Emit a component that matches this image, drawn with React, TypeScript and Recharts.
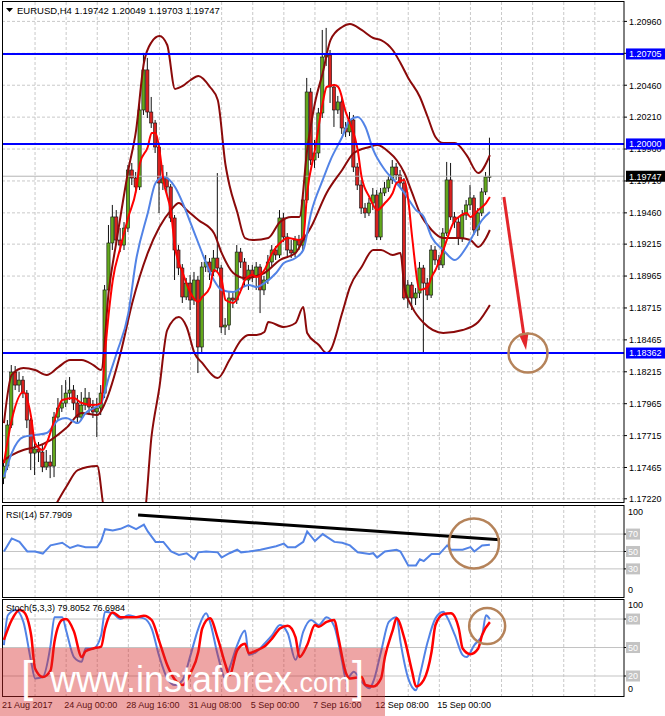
import React from "react";
import {
  Bar,
  CartesianGrid,
  ComposedChart,
  Line,
  ReferenceDot,
  ReferenceLine,
  XAxis,
  YAxis,
} from "recharts";

const FONT = "'Liberation Sans', Arial, sans-serif";

// EURUSD H4 candles
const OPEN = [
  1.17382, 1.17476, 1.17798, 1.18213, 1.18111, 1.1815, 1.18048, 1.17837, 1.17578, 1.1761,
  1.17586, 1.17469, 1.17508, 1.17476, 1.1786, 1.17931, 1.1797, 1.18048, 1.18072, 1.1797,
  1.1786, 1.17954, 1.18009, 1.17939, 1.179, 1.17931, 1.18048, 1.18856, 1.19224, 1.19428,
  1.19247, 1.19208, 1.19341, 1.19796, 1.19733, 1.19663, 1.20266, 1.2058, 1.2025, 1.20164,
  1.19976, 1.19694, 1.19733, 1.19663, 1.1942, 1.19169, 1.19028, 1.18801, 1.1891, 1.18777,
  1.18934, 1.18409, 1.19036, 1.19075, 1.18997, 1.19106, 1.19028, 1.18566, 1.18581, 1.18793,
  1.18777, 1.19153, 1.19075, 1.18934, 1.19012, 1.18965, 1.19036, 1.18856, 1.18934, 1.19075,
  1.19169, 1.1913, 1.1942, 1.19271, 1.19169, 1.19146, 1.19247, 1.19208, 1.19561, 1.20407,
  1.19874, 1.19929, 1.20243, 1.20681, 1.20697, 1.20446, 1.20266, 1.20329, 1.20125, 1.20094,
  1.20188, 1.19819, 1.19678, 1.19498, 1.19459, 1.19537, 1.196, 1.19271, 1.19616, 1.19655,
  1.19718, 1.19819, 1.19757, 1.19694, 1.18793, 1.18895, 1.18793, 1.18832, 1.19028, 1.1891,
  1.18816, 1.19169, 1.19091, 1.19052, 1.19302, 1.19718, 1.19428, 1.19388, 1.19263, 1.19443,
  1.19522, 1.19577, 1.19326, 1.19459, 1.19624, 1.19742,
];
const HIGH = [
  1.17523, 1.17837, 1.18268, 1.1826, 1.18213, 1.18182, 1.18072, 1.17853, 1.1768, 1.17665,
  1.17641, 1.17602, 1.17563, 1.179, 1.18009, 1.18111, 1.1815, 1.18174, 1.18111, 1.18033,
  1.18056, 1.18088, 1.18056, 1.17994, 1.18009, 1.18111, 1.18895, 1.19365, 1.19522, 1.19482,
  1.19341, 1.19388, 1.19835, 1.19851, 1.1978, 1.20344, 1.20713, 1.20674, 1.20368, 1.20188,
  1.19992, 1.19835, 1.1978, 1.19686, 1.19443, 1.19208, 1.19059, 1.1895, 1.18973, 1.18997,
  1.18965, 1.19075, 1.1913, 1.19106, 1.19169, 1.19772, 1.19052, 1.18636, 1.1884, 1.18832,
  1.19208, 1.19185, 1.19106, 1.19052, 1.19052, 1.19075, 1.19059, 1.18965, 1.1913, 1.19208,
  1.192, 1.19482, 1.19459, 1.19302, 1.19247, 1.19279, 1.19287, 1.196, 1.20517, 1.20438,
  1.20031, 1.20282, 1.20893, 1.20909, 1.20736, 1.2047, 1.20376, 1.2036, 1.20172, 1.2025,
  1.20227, 1.19851, 1.19718, 1.19537, 1.19577, 1.19655, 1.19639, 1.19655, 1.19702, 1.19749,
  1.19874, 1.19851, 1.19796, 1.19733, 1.18934, 1.18918, 1.18871, 1.19075, 1.19052, 1.1895,
  1.19208, 1.192, 1.1913, 1.19341, 1.19859, 1.19851, 1.19467, 1.1942, 1.19482, 1.19561,
  1.19678, 1.196, 1.19498, 1.19655, 1.1978, 1.20049,
];
const LOW = [
  1.17335, 1.17445, 1.17774, 1.18072, 1.18056, 1.18009, 1.17774, 1.17445, 1.17406, 1.17508,
  1.17429, 1.17445, 1.17382, 1.1739, 1.17837, 1.179, 1.17939, 1.17994, 1.17915, 1.17821,
  1.17837, 1.17915, 1.17876, 1.17853, 1.17704, 1.17876, 1.18009, 1.18816, 1.19169, 1.19208,
  1.19153, 1.19169, 1.1931, 1.19678, 1.19616, 1.19639, 1.20227, 1.20203, 1.20125, 1.19929,
  1.19459, 1.19639, 1.196, 1.19388, 1.18934, 1.18973, 1.18754, 1.18777, 1.18699, 1.18738,
  1.18205, 1.1837, 1.18997, 1.18934, 1.18965, 1.18997, 1.18519, 1.18503, 1.18542, 1.18715,
  1.18746, 1.19028, 1.18879, 1.18856, 1.18918, 1.18856, 1.18675, 1.18816, 1.18903, 1.19044,
  1.19091, 1.19106, 1.19232, 1.19122, 1.19106, 1.19114, 1.19169, 1.19169, 1.19537, 1.19835,
  1.19812, 1.1989, 1.20203, 1.20611, 1.20321, 1.20133, 1.20235, 1.20078, 1.20054, 1.20062,
  1.1978, 1.19639, 1.19451, 1.1942, 1.19435, 1.19482, 1.19247, 1.19247, 1.19592, 1.19624,
  1.19686, 1.19718, 1.19655, 1.18777, 1.18715, 1.18699, 1.18738, 1.18793, 1.18362, 1.18777,
  1.18793, 1.19052, 1.19012, 1.19028, 1.19279, 1.19404, 1.19341, 1.19208, 1.19232, 1.19404,
  1.19482, 1.19287, 1.19279, 1.19435, 1.196, 1.19703,
];
const CLOSE = [
  1.17476, 1.17798, 1.18213, 1.18111, 1.1815, 1.18048, 1.17837, 1.17578, 1.1761, 1.17586,
  1.17469, 1.17508, 1.17476, 1.1786, 1.17931, 1.1797, 1.18048, 1.18072, 1.1797, 1.1786,
  1.17954, 1.18009, 1.17939, 1.179, 1.17931, 1.18048, 1.18856, 1.19224, 1.19428, 1.19247,
  1.19208, 1.19341, 1.19796, 1.19733, 1.19663, 1.20266, 1.2058, 1.2025, 1.20164, 1.19976,
  1.19694, 1.19733, 1.19663, 1.1942, 1.19169, 1.19028, 1.18801, 1.1891, 1.18777, 1.18934,
  1.18409, 1.19036, 1.19075, 1.18997, 1.19106, 1.19028, 1.18566, 1.18581, 1.18793, 1.18777,
  1.19153, 1.19075, 1.18934, 1.19012, 1.18965, 1.19036, 1.18856, 1.18934, 1.19075, 1.19169,
  1.1913, 1.1942, 1.19271, 1.19169, 1.19146, 1.19247, 1.19208, 1.19561, 1.20407, 1.19874,
  1.19929, 1.20243, 1.20681, 1.20697, 1.20446, 1.20266, 1.20329, 1.20125, 1.20094, 1.20188,
  1.19819, 1.19678, 1.19498, 1.19459, 1.19537, 1.196, 1.19271, 1.19616, 1.19655, 1.19718,
  1.19819, 1.19757, 1.19694, 1.18793, 1.18895, 1.18793, 1.18832, 1.19028, 1.1891, 1.18816,
  1.19169, 1.19091, 1.19052, 1.19302, 1.19718, 1.19428, 1.19388, 1.19263, 1.19443, 1.19522,
  1.19577, 1.19326, 1.19459, 1.19624, 1.19741, 1.19747,
];

// indicators, [bar, value] read where the curve could be seen
const BB_UPPER = [
  [0, 1.17813], [2, 1.1819], [5, 1.18244], [8, 1.18229], [11, 1.1819], [14, 1.18252], [17, 1.18307],
  [20, 1.18307], [23, 1.18268], [25, 1.18229], [27, 1.18856], [29, 1.19247], [32, 1.19796], [34, 1.20109],
  [36, 1.20634], [38, 1.20799], [40, 1.20846], [42, 1.20775], [44, 1.20431], [46, 1.20454], [48, 1.20501],
  [50, 1.20532], [53, 1.20446], [55, 1.20344], [57, 1.19835], [58, 1.19678], [60, 1.19467], [62, 1.19263],
  [64, 1.19247], [68, 1.19263], [71, 1.19388], [74, 1.19428], [76, 1.19428], [78, 1.19953], [80, 1.20321],
  [82, 1.20556], [84, 1.20814], [87, 1.20916], [89, 1.2094], [92, 1.20893], [95, 1.2083], [97, 1.20814],
  [100, 1.20736], [102, 1.20634], [104, 1.20517], [107, 1.20368], [109, 1.20211], [111, 1.20054],
  [113, 1.20007], [116, 1.20007], [119, 1.19913], [122, 1.19772], [125, 1.19913],
];
const BB_MIDDLE = [
  [0, 1.17523], [2, 1.17563], [5, 1.17602], [8, 1.17625], [12, 1.1768], [16, 1.17774], [20, 1.17892],
  [24, 1.17876], [26, 1.1797], [30, 1.18362], [33, 1.18754], [37, 1.19146], [40, 1.19349], [43, 1.19482],
  [45, 1.19537], [47, 1.19482], [50, 1.19404], [54, 1.19302], [56, 1.19146], [59, 1.18989], [62, 1.1895],
  [67, 1.18989], [71, 1.19091], [75, 1.19146], [77, 1.19247], [79, 1.19349], [83, 1.19616], [87, 1.19796],
  [90, 1.19929], [94, 1.19976], [96, 1.19992], [99, 1.19937], [101, 1.19874], [103, 1.19772],
  [105, 1.19616], [107, 1.19459], [110, 1.19326], [113, 1.19263], [117, 1.19263], [120, 1.19247],
  [122, 1.19193], [124, 1.19263], [125, 1.19326],
];
const BB_LOWER = [
  [12, 1.171], [16, 1.17312], [19, 1.17445], [24, 1.17476], [26, 1.1712], [36, 1.171], [38, 1.17719],
  [40, 1.18095], [42, 1.18542], [45, 1.18644], [47, 1.18566], [49, 1.18362], [51, 1.18284], [55, 1.18166],
  [58, 1.18307], [61, 1.18463], [63, 1.18503], [65, 1.18503], [67, 1.18527], [68, 1.18605], [72, 1.18566],
  [75, 1.18597], [77, 1.18722], [78, 1.18519], [81, 1.18425], [83, 1.18362], [84, 1.18385], [87, 1.18675],
  [89, 1.18879], [92, 1.19036], [95, 1.19169], [97, 1.19169], [100, 1.1913], [102, 1.19146], [103, 1.18879],
  [105, 1.18722], [108, 1.18597], [113, 1.18519], [118, 1.18542], [122, 1.18605], [125, 1.18738],
];
const MA_FAST = [
  [0, 1.175], [2, 1.17837], [5, 1.18056], [7, 1.1786], [8, 1.17657], [10, 1.17602], [11, 1.17657],
  [13, 1.17837], [15, 1.17994], [18, 1.18009], [20, 1.1797], [23, 1.17954], [25, 1.1797], [26, 1.18362],
  [28, 1.18934], [30, 1.19193], [32, 1.19428], [34, 1.19639], [35, 1.19851], [37, 1.19976], [38, 1.20086],
  [39, 1.20086], [40, 1.19953], [41, 1.19718], [43, 1.19459], [44, 1.19193], [46, 1.18989], [48, 1.18832],
  [50, 1.18762], [51, 1.18801], [53, 1.18879], [54, 1.19012], [56, 1.18934], [57, 1.18777], [59, 1.18754],
  [61, 1.18856], [62, 1.18934], [64, 1.18973], [65, 1.18957], [67, 1.19012], [69, 1.19146], [71, 1.19224],
  [73, 1.19263], [76, 1.19247], [77, 1.19271], [78, 1.19616], [80, 1.19953], [82, 1.20321], [83, 1.20446],
  [85, 1.20462], [86, 1.20446], [88, 1.20243], [89, 1.20164], [91, 1.19953], [92, 1.19741], [94, 1.19584],
  [96, 1.19482], [98, 1.19537], [100, 1.19616], [101, 1.19694], [103, 1.19718], [104, 1.19561],
  [105, 1.19271], [107, 1.18856], [109, 1.18879], [110, 1.18957], [111, 1.19012], [113, 1.19169],
  [116, 1.19404], [117, 1.19428], [119, 1.19459], [120, 1.19428], [122, 1.19482], [124, 1.19537],
  [125, 1.19584],
];
const MA_SLOW = [
  [0, 1.1739], [2, 1.17578], [5, 1.17704], [8, 1.17719], [11, 1.17735], [14, 1.17837], [16, 1.17853],
  [19, 1.17813], [21, 1.17892], [25, 1.1797], [27, 1.18174], [29, 1.18362], [32, 1.18675], [34, 1.19091],
  [37, 1.19459], [39, 1.19694], [41, 1.19741], [44, 1.19663], [46, 1.19537], [48, 1.19381], [50, 1.19224],
  [52, 1.19067], [54, 1.18934], [56, 1.18856], [59, 1.1884], [61, 1.18871], [63, 1.18895], [65, 1.18879],
  [67, 1.1891], [70, 1.18989], [72, 1.19067], [75, 1.19106], [77, 1.19169], [79, 1.19459], [82, 1.19718],
  [84, 1.19874], [87, 1.20054], [89, 1.20188], [91, 1.20211], [93, 1.20133], [95, 1.19953], [98, 1.19796],
  [101, 1.19694], [103, 1.19616], [106, 1.19482], [108, 1.19428], [110, 1.19271], [113, 1.19169],
  [116, 1.19091], [119, 1.19193], [121, 1.19302], [123, 1.19404], [125, 1.19467],
];
const RSI = [
  [0, 50], [2, 65], [4, 61], [6, 50], [8, 50], [10, 47.6], [12, 57], [15, 60], [17, 54], [19, 57], [21, 55],
  [24, 55], [25, 62], [26, 75.6], [28, 74], [30, 76], [32, 80], [34, 75.6], [36, 80.8], [37, 73], [39, 61],
  [41, 61], [43, 50], [45, 46], [47, 48], [49, 41], [50, 49], [52, 50], [55, 49], [56, 43], [58, 48],
  [60, 52], [61, 49], [63, 50], [66, 52], [68, 54], [70, 56], [72, 59], [73, 55], [75, 55], [77, 61],
  [78, 73], [80, 62], [82, 70], [85, 61], [87, 60], [89, 57], [91, 49], [94, 47], [95, 48], [96, 43],
  [98, 50], [101, 52], [102, 50], [104, 34], [106, 34], [107, 41], [108, 39], [110, 47], [112, 47],
  [114, 57], [115, 52], [118, 52], [120, 55], [121, 50], [123, 57], [125, 57.8],
];
const STOCH_K = [
  [0, 52.6], [1, 84], [3, 89.5], [5, 77], [7, 35], [8, 17.5], [10, 19], [12, 52.6], [13, 82], [15, 82],
  [16, 68], [18, 40], [20, 35], [21, 49], [23, 49], [25, 63], [26, 87.7], [28, 86], [30, 80], [32, 84],
  [34, 82], [36, 80.7], [38, 70], [40, 40], [42, 17.5], [44, 10.5], [46, 16], [48, 42], [50, 70], [52, 86],
  [53, 77], [55, 42], [57, 17.5], [58, 28], [60, 52.6], [62, 68], [63, 42], [65, 45.6], [67, 54], [69, 63],
  [71, 73.7], [73, 65], [75, 37], [77, 66.7], [79, 79], [81, 73.7], [83, 82], [85, 72], [87, 35], [88, 16],
  [90, 24.6], [92, 14], [94, 7], [95, 14], [97, 45.6], [99, 77], [101, 82], [102, 56], [104, 17.5], [106, 5],
  [107, 21], [109, 56], [111, 80.7], [113, 87.7], [114, 82], [116, 63], [118, 42], [119, 40], [121, 52.6],
  [123, 63], [124, 84], [125, 79.8],
];
const STOCH_D = [
  [0, 58], [2, 79], [4, 89.5], [5, 88], [7, 63], [8, 28], [10, 19], [12, 26], [13, 56], [15, 79], [16, 80],
  [18, 67], [20, 40], [21, 46], [23, 49], [25, 51], [26, 70], [28, 87], [30, 82], [32, 82], [34, 82],
  [36, 83.5], [38, 79], [40, 56], [42, 31.6], [44, 16], [46, 10.5], [48, 23], [50, 45.6], [51, 70],
  [53, 80.7], [55, 59.6], [57, 31.6], [58, 21], [60, 47], [62, 54], [63, 44], [65, 47], [67, 51], [69, 59.6],
  [71, 70], [73, 73], [75, 61], [76, 40], [78, 52.6], [80, 73.7], [81, 72], [83, 77], [85, 79], [86, 61],
  [88, 23], [89, 17.5], [92, 19], [93, 10.5], [95, 9], [97, 17.5], [98, 40], [100, 68], [101, 80.7],
  [103, 59.6], [105, 24.6], [106, 9], [108, 16], [110, 45.6], [111, 73.7], [113, 85], [115, 86], [117, 70],
  [118, 49], [120, 43], [122, 49], [123, 63], [125, 76.7],
];

const PRICE_TICKS = [
  1.2096, 1.2071, 1.2046, 1.2021, 1.1996, 1.1971, 1.1946, 1.19215, 1.18965, 1.18715, 1.18465, 1.18215,
  1.17965, 1.17715, 1.17465, 1.1722,
];
const LEVELS = [1.20705, 1.2, 1.18362];
const LAST_PRICE = 1.19747;
const DATE_TICKS = [0, 16, 32, 48, 64, 80, 96, 112];
const DATE_LABELS = [
  "21 Aug 2017", "24 Aug 00:00", "28 Aug 16:00", "31 Aug 08:00",
  "5 Sep 00:00", "7 Sep 16:00", "12 Sep 08:00", "15 Sep 00:00",
];
const GRID_X = [8, 16, 24, 32, 40, 48, 56, 64, 72, 80, 88, 96, 104, 112, 120, 128, 136, 144, 152];

// drawn annotations, in chart units
const ARROW = [{ x: 128.6, y: 1.19584 }, { x: 134.3, y: 1.18385 }];
const TARGET = { x: 134.8, y: 1.18362 };
const RSI_TREND = [{ x: 34.5, y: 92 }, { x: 127.6, y: 63.6 }];
const RSI_CIRCLE = { x: 120.9, y: 59.1 };
const STOCH_CIRCLE = { x: 124.3, y: 72.6 };

const X_DOMAIN = [-0.5, 159.5];
const BB = "#8b0a0a";
const BLUE_MA = "#5283e6";
const BROWN = "#b5835a";
const GRID = "#c9c9c9";

const toMap = (pairs: number[][]) => new Map(pairs.map(([i, v]) => [i, v]));
const mU = toMap(BB_UPPER);
const mM = toMap(BB_MIDDLE);
const mL = toMap(BB_LOWER);
const mF = toMap(MA_FAST);
const mS = toMap(MA_SLOW);
const mR = toMap(RSI);
const mK = toMap(STOCH_K);
const mD = toMap(STOCH_D);

const rows = OPEN.map((o, i) => ({
  i,
  o,
  h: HIGH[i],
  l: LOW[i],
  c: CLOSE[i],
  range: [LOW[i], HIGH[i]],
  bbU: mU.get(i) ?? null,
  bbM: mM.get(i) ?? null,
  bbL: mL.get(i) ?? null,
  maF: mF.get(i) ?? null,
  maS: mS.get(i) ?? null,
  rsi: mR.get(i) ?? null,
  k: mK.get(i) ?? null,
  d: mD.get(i) ?? null,
}));

function Candle(props: any) {
  const { x, y, width, height } = props;
  const p = props.payload ?? props;
  if (p == null || y == null || height == null) return null;
  const top = Math.min(y, y + height);
  const bot = Math.max(y, y + height);
  const py = (v: number) => (p.h === p.l ? top : top + ((p.h - v) / (p.h - p.l)) * (bot - top));
  const cx = x + width / 2;
  const yo = py(p.o);
  const yc = py(p.c);
  const up = p.c >= p.o;
  return (
    <g>
      <line x1={cx} x2={cx} y1={top} y2={bot} stroke="#111" strokeWidth={1} />
      <rect
        x={cx - 1.6}
        y={Math.min(yo, yc)}
        width={3.2}
        height={Math.max(1, Math.abs(yc - yo))}
        fill={up ? "#62a81c" : "#d8211f"}
        stroke="#111"
        strokeWidth={0.6}
      />
    </g>
  );
}

function Arrow(props: any) {
  const { x1, y1, x2, y2 } = props;
  const a = Math.atan2(y2 - y1, x2 - x1);
  const L = 17;
  const W = 5;
  const bx = x2 - L * Math.cos(a);
  const by = y2 - L * Math.sin(a);
  const pts = `${x2},${y2} ${bx + W * Math.sin(a)},${by - W * Math.cos(a)} ${bx - W * Math.sin(a)},${by + W * Math.cos(a)}`;
  return (
    <g>
      <line x1={x1} y1={y1} x2={bx} y2={by} stroke="#e3262b" strokeWidth={3} />
      <polygon points={pts} fill="#e3262b" />
    </g>
  );
}

const AXIS_X = 624;

function PriceTick(props: any) {
  const { y, payload } = props;
  const v = payload.value;
  const label = v.toFixed(5);
  const isLevel = LEVELS.includes(v);
  const isLast = v === LAST_PRICE;
  if (isLevel || isLast) {
    return (
      <g>
        <rect x={AXIS_X + 2} y={y - 5.5} width={39} height={11} fill={isLast ? "#000" : "#0000ff"} />
        <text x={AXIS_X + 5} y={y + 3.3} fontSize={9} fontFamily={FONT} fill="#fff">
          {label}
        </text>
      </g>
    );
  }
  return (
    <g>
      <line x1={AXIS_X} x2={AXIS_X + 3} y1={y} y2={y} stroke="#000" />
      <text x={AXIS_X + 5} y={y + 3.3} fontSize={9} fontFamily={FONT} fill="#000">
        {label}
      </text>
    </g>
  );
}

function levelTick(levels: number[], top: number, bottom: number, topShift: number, bottomShift: number) {
  return (props: any) => {
    const { y, payload } = props;
    const v = payload.value;
    if (levels.includes(v)) {
      return (
        <g>
          <line x1={AXIS_X} x2={AXIS_X + 3} y1={y} y2={y} stroke="#000" />
          <rect x={AXIS_X + 2} y={y - 5.5} width={14} height={11} fill="#c3c3c3" />
          <text x={AXIS_X + 4} y={y + 3.3} fontSize={9} fontFamily={FONT} fill="#fff">
            {v}
          </text>
        </g>
      );
    }
    const dy = v === top ? topShift : v === bottom ? bottomShift : 0;
    return (
      <text x={AXIS_X + 4} y={y + 3.3 + dy} fontSize={9} fontFamily={FONT} fill="#000">
        {v}
      </text>
    );
  };
}

function DateTick(props: any) {
  const { x, payload } = props;
  const idx = DATE_TICKS.indexOf(payload.value);
  return (
    <text x={x - 2} y={109} fontSize={9} fontFamily={FONT} fill="#000">
      {DATE_LABELS[idx]}
    </text>
  );
}

const line = {
  dot: false,
  activeDot: false,
  isAnimationActive: false,
  connectNulls: true,
} as const;

export default function App() {
  return (
    <div
      style={{
        position: "absolute",
        left: 0,
        top: 0,
        width: 665,
        height: 716,
        background: "#fff",
        overflow: "hidden",
      }}
    >
      <div style={{ position: "absolute", left: 0, top: 0 }}>
        <ComposedChart width={665} height={505} data={rows} margin={{ top: 2, right: 0, bottom: 2, left: 2 }}>
          <CartesianGrid
            stroke={GRID}
            strokeDasharray="3 2"
            horizontalValues={PRICE_TICKS}
            verticalValues={GRID_X}
          />
          <XAxis dataKey="i" type="number" domain={X_DOMAIN} allowDataOverflow hide ticks={GRID_X} />
          <YAxis
            orientation="right"
            width={41}
            type="number"
            domain={[1.17187, 1.21112]}
            allowDataOverflow
            ticks={[...PRICE_TICKS, ...LEVELS, LAST_PRICE]}
            interval={0}
            tick={(p: any) => <PriceTick {...p} />}
            axisLine={false}
            tickLine={false}
          />
          <ReferenceLine y={LAST_PRICE} stroke="#b4b4b4" strokeWidth={1} />
          <Bar dataKey="range" barSize={3} shape={(p: any) => <Candle {...p} />} isAnimationActive={false} />
          <Line {...line} type="monotone" dataKey="bbU" stroke={BB} strokeWidth={2} />
          <Line {...line} type="monotone" dataKey="bbM" stroke={BB} strokeWidth={2} />
          <Line {...line} type="monotone" dataKey="bbL" stroke={BB} strokeWidth={2} />
          <Line {...line} type="monotone" dataKey="maS" stroke={BLUE_MA} strokeWidth={2} />
          <Line {...line} type="monotone" dataKey="maF" stroke="#ff0000" strokeWidth={2} />
          {LEVELS.map((v) => (
            <ReferenceLine key={v} y={v} stroke="#0000ff" strokeWidth={2} />
          ))}
          <ReferenceLine segment={ARROW} ifOverflow="visible" shape={(p: any) => <Arrow {...p} />} />
          <ReferenceDot
            x={TARGET.x}
            y={TARGET.y}
            r={19.5}
            fill="none"
            stroke={BROWN}
            strokeWidth={2.5}
            ifOverflow="visible"
          />
        </ComposedChart>
      </div>

      <div style={{ position: "absolute", left: 0, top: 505 }}>
        <ComposedChart width={665} height={92} data={rows} margin={{ top: 0, right: 0, bottom: 0, left: 2 }}>
          <CartesianGrid stroke={GRID} strokeDasharray="3 2" horizontal={false} verticalValues={GRID_X} />
          <XAxis dataKey="i" type="number" domain={X_DOMAIN} allowDataOverflow hide ticks={GRID_X} />
          <YAxis
            orientation="right"
            width={41}
            type="number"
            domain={[-2.3, 103.4]}
            allowDataOverflow
            ticks={[100, 70, 50, 30, 0]}
            interval={0}
            tick={levelTick([70, 50, 30], 100, 0, 4, -5)}
            axisLine={false}
            tickLine={false}
          />
          {[70, 50, 30].map((v) => (
            <ReferenceLine key={v} y={v} stroke="#c3c3c3" strokeWidth={1} />
          ))}
          <Line {...line} type="linear" dataKey="rsi" stroke={BLUE_MA} strokeWidth={2} />
          <ReferenceLine segment={RSI_TREND} stroke="#000" strokeWidth={3} ifOverflow="visible" />
          <ReferenceDot
            x={RSI_CIRCLE.x}
            y={RSI_CIRCLE.y}
            r={25}
            fill="none"
            stroke={BROWN}
            strokeWidth={2.5}
            ifOverflow="visible"
          />
        </ComposedChart>
      </div>

      <div style={{ position: "absolute", left: 0, top: 599 }}>
        <ComposedChart width={665} height={117} data={rows} margin={{ top: 0, right: 0, bottom: 0, left: 2 }}>
          <CartesianGrid stroke={GRID} strokeDasharray="3 2" horizontal={false} verticalValues={GRID_X} />
          <XAxis
            dataKey="i"
            type="number"
            domain={X_DOMAIN}
            allowDataOverflow
            height={19}
            ticks={DATE_TICKS}
            interval={0}
            tick={(p: any) => <DateTick {...p} />}
            axisLine={false}
            tickLine={false}
          />
          <YAxis
            orientation="right"
            width={41}
            type="number"
            domain={[-2.1, 101.1]}
            allowDataOverflow
            ticks={[100, 80, 50, 20, 0]}
            interval={0}
            tick={levelTick([80, 50, 20], 100, 0, 5, -6)}
            axisLine={false}
            tickLine={false}
          />
          {[80, 50, 20].map((v) => (
            <ReferenceLine key={v} y={v} stroke="#c3c3c3" strokeWidth={1} />
          ))}
          <Line {...line} type="monotone" dataKey="k" stroke={BLUE_MA} strokeWidth={2} />
          <Line {...line} type="monotone" dataKey="d" stroke="#ff0000" strokeWidth={2.5} />
          <ReferenceDot
            x={STOCH_CIRCLE.x}
            y={STOCH_CIRCLE.y}
            r={18}
            fill="none"
            stroke={BROWN}
            strokeWidth={2.5}
            ifOverflow="visible"
          />
        </ComposedChart>
      </div>

      <svg
        width={665}
        height={716}
        style={{ position: "absolute", left: 0, top: 0, pointerEvents: "none" }}
      >
        <rect x={2.5} y={1.5} width={621.5} height={501} fill="none" stroke="#000" />
        <rect x={2.5} y={505.5} width={621.5} height={92} fill="none" stroke="#000" />
        <rect x={2.5} y={599.5} width={621.5} height={97} fill="none" stroke="#000" />
        <polygon points="6,8 13,8 9.5,12" fill="#000" />
        <text x={17} y={14} fontSize={9.5} fontFamily={FONT} fill="#000">
          EURUSD,H4 1.19742 1.20049 1.19703 1.19747
        </text>
        <text x={6} y={518} fontSize={9} fontFamily={FONT} fill="#000">
          RSI(14) 57.7909
        </text>
        <text x={6} y={611} fontSize={9} fontFamily={FONT} fill="#000">
          Stoch(5,3,3) 79.8052 76.6984
        </text>

        <rect x={0} y={648} width={385} height={68} fill="rgba(214,40,40,0.42)" />
        <text x={21} y={692} fontSize={44} fontFamily={FONT} fill="#fff">
          [
        </text>
        <text x={50} y={692} fontSize={36} fontFamily={FONT} fill="#fff">
          www.instaforex
          <tspan fontSize={27}>.com</tspan>
        </text>
        <text x={352} y={692} fontSize={44} fontFamily={FONT} fill="#fff">
          ]
        </text>
      </svg>
    </div>
  );
}
